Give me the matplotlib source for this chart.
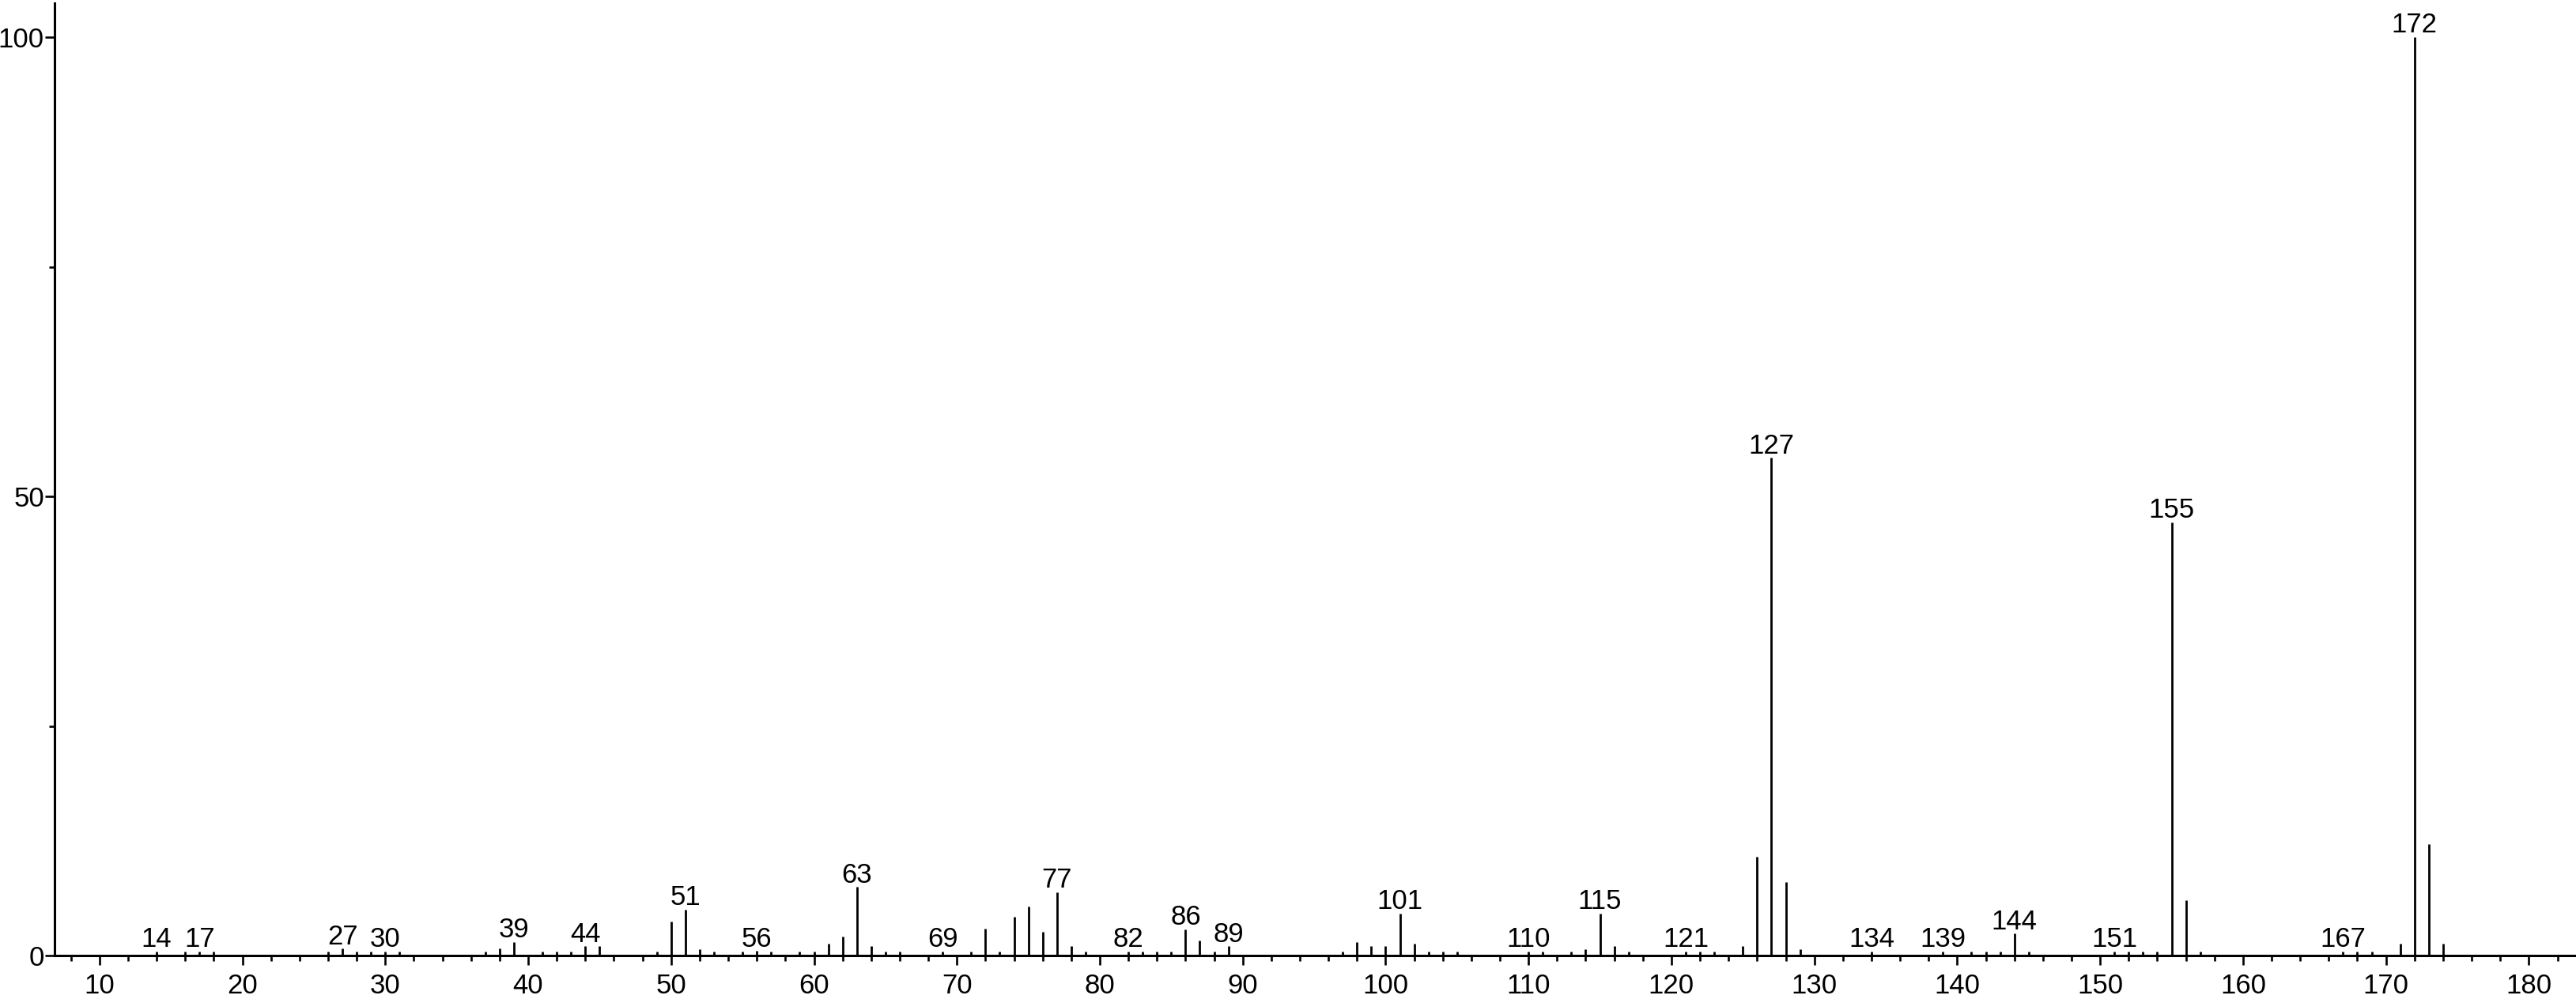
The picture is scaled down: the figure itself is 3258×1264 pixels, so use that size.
import matplotlib
matplotlib.use("Agg")
import matplotlib.pyplot as plt
from matplotlib.ticker import MultipleLocator

plt.rcParams['font.family'] = ['Liberation Sans', 'DejaVu Sans']

# m/z values and relative intensities
mz = [14, 16, 17, 18, 26, 27, 28, 29, 30, 31,
      37, 38, 39, 41, 42, 43, 44, 45, 49, 50,
      51, 52, 53, 55, 56, 57, 59, 60, 61, 62,
      63, 64, 65, 66, 69, 71, 72, 73, 74, 75,
      76, 77, 78, 79, 82, 83, 84, 85, 86, 87,
      88, 89, 97, 98, 99, 100, 101, 102, 103, 104,
      105, 110, 111, 113, 114, 115, 116, 117, 121, 122,
      123, 125, 126, 127, 128, 129, 134, 139, 141, 142,
      143, 144, 145, 151, 152, 153, 154, 155, 156, 157,
      167, 168, 169, 171, 172, 173, 174]
intensity = [0.45, 0.45, 0.45, 0.45, 0.45, 0.75, 0.45, 0.45, 0.45, 0.45,
             0.45, 0.75, 1.5, 0.45, 0.45, 0.45, 1.0, 1.0, 0.45, 3.7,
             5.0, 0.7, 0.45, 0.45, 0.5, 0.45, 0.45, 0.4, 1.3, 2.1,
             7.45, 1.0, 0.45, 0.45, 0.45, 0.45, 2.9, 0.45, 4.24, 5.3,
             2.6, 6.9, 1.0, 0.45, 0.45, 0.45, 0.45, 0.45, 2.87, 1.6,
             0.45, 1.0, 0.45, 1.5, 1.0, 1.0, 4.6, 1.3, 0.45, 0.45,
             0.45, 0.45, 0.45, 0.45, 0.7, 4.6, 1.0, 0.45, 0.45, 0.45,
             0.45, 1.0, 10.8, 54.2, 8.0, 0.7, 0.45, 0.45, 0.45, 0.45,
             0.45, 2.4, 0.45, 0.45, 0.45, 0.45, 0.45, 47.2, 6.0, 0.45,
             0.45, 0.45, 0.45, 1.3, 100.0, 12.1, 1.3]

# peaks that carry a m/z label
labelled = [14, 17, 27, 30, 39, 44, 51, 56, 63, 69, 77, 82, 86, 89,
            101, 110, 115, 121, 127, 134, 139, 144, 151, 155, 167, 172]

fig = plt.figure(figsize=(32.58, 12.64), dpi=100)
ax = fig.add_axes([0.0212, 0.0435, 0.9788, 0.9533])

ax.vlines(mz, 0, intensity, colors='black', linewidth=2.0)

for m, h in zip(mz, intensity):
    if m in labelled:
        ax.annotate(str(m), (m, h), xytext=(0, 4), textcoords='offset points',
                    ha='center', va='baseline', fontsize=25)

ax.set_xlim(6.86, 183.3)
ax.set_ylim(0, 103.7)

for side in ['top', 'right']:
    ax.spines[side].set_visible(False)
for side in ['left', 'bottom']:
    ax.spines[side].set_linewidth(2.2)

ax.xaxis.set_major_locator(MultipleLocator(10))
ax.xaxis.set_minor_locator(MultipleLocator(2))
ax.yaxis.set_major_locator(MultipleLocator(50))
ax.yaxis.set_minor_locator(MultipleLocator(25))

ax.tick_params(axis='both', which='major', direction='out', length=8.5,
               width=1.9, labelsize=25, color='black')
ax.tick_params(axis='both', which='minor', direction='out', length=5,
               width=1.9, color='black')
ax.tick_params(axis='x', which='major', pad=7)
ax.tick_params(axis='y', which='major', pad=1)

fig.savefig("out.png", dpi=100)
